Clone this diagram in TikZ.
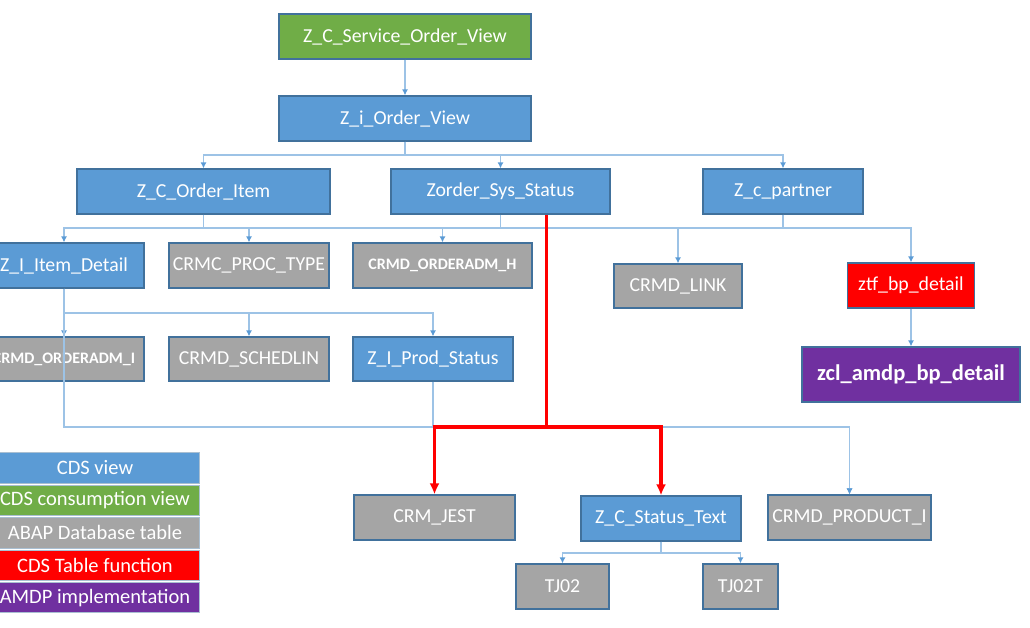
\documentclass[tikz,border=0pt]{standalone}
\usepackage{fontspec}
\setmainfont{Carlito}
\usetikzlibrary{arrows.meta,positioning}
\definecolor{cdsblue}{HTML}{5B9BD5}
\definecolor{cdsgreen}{HTML}{70AD47}
\definecolor{tabgrey}{HTML}{A5A5A5}
\definecolor{tfred}{HTML}{FF0000}
\definecolor{amdppurple}{HTML}{7030A0}
\definecolor{boxedge}{HTML}{41719C}
\definecolor{linkblue}{HTML}{9DC3E6}

\begin{document}
\begin{tikzpicture}[x=1pt,y=-1pt,
    box/.style={draw=boxedge,line width=1.2pt,text=white,minimum height=45pt,inner sep=0pt,font=\fontsize{19.8}{23}\selectfont},
    view/.style={box,fill=cdsblue},
    cview/.style={box,fill=cdsgreen},
    dbtab/.style={box,fill=tabgrey},
    tfunc/.style={box,fill=tfred},
    amdp/.style={box,fill=amdppurple,font=\fontsize{22.5}{26}\selectfont\bfseries},
    legbox/.style={box,draw=boxedge!45,line width=0.8pt,minimum width=208pt,minimum height=30.5pt,font=\fontsize{20.5}{24}\selectfont},
    link/.style={draw=linkblue,line width=1.2pt,-{Latex[length=6pt,width=6pt,color=cdsblue]}},
    hot/.style={draw=tfred,line width=3.6pt,-{Latex[length=11pt,width=10pt]}}]
        \useasboundingbox (0,0) rectangle (1030,627);
        % top of the tree
        \node[cview,minimum width=252pt] (svc) at (405,36.5) {Z\_C\_Service\_Order\_View};
        \node[view,minimum width=252pt] (iov) at (405,118.5) {Z\_i\_Order\_View};
        \node[view,minimum width=253pt] (oitem) at (203.5,191.5) {Z\_C\_Order\_Item};
        \node[view,minimum width=219pt] (sysst) at (500.5,191.5) {Zorder\_Sys\_Status};
        \node[view,minimum width=160pt] (partner) at (783,191.5) {Z\_c\_partner};
        % second level
        \node[view,minimum width=160pt] (idetail) at (64,265.5) {Z\_I\_Item\_Detail};
        \node[dbtab,minimum width=160pt] (proctype) at (249,265.5) {CRMC\_PROC\_TYPE};
        \node[dbtab,minimum width=179pt,font=\fontsize{16}{19}\selectfont\bfseries] (admh) at (442.5,265.5) {CRMD\_ORDERADM\_H};
        \node[dbtab,minimum width=128pt,minimum height=44pt] (crmlink) at (678,286) {CRMD\_LINK};
        \node[tfunc,minimum width=127pt] (ztf) at (911,285.5) {ztf\_bp\_detail};
        \node[amdp,minimum width=218pt,minimum height=55pt] (zcl) at (911,374.5) {zcl\_amdp\_bp\_detail};
        % third level
        \node[dbtab,minimum width=160pt,minimum height=44pt,font=\fontsize{16}{19}\selectfont\bfseries] (admi) at (64,359) {CRMD\_ORDERADM\_I};
        \node[dbtab,minimum width=160pt,minimum height=44pt] (schedlin) at (249,359) {CRMD\_SCHEDLIN};
        \node[view,minimum width=160pt,minimum height=44pt] (prodst) at (433,359) {Z\_I\_Prod\_Status};
        % bottom
        \node[dbtab,minimum width=161pt] (jest) at (434.5,517.5) {CRM\_JEST};
        \node[view,minimum width=160pt] (stext) at (661,518.5) {Z\_C\_Status\_Text};
        \node[dbtab,minimum width=163pt] (prodi) at (849.5,517.5) {CRMD\_PRODUCT\_I};
        \node[dbtab,minimum width=93pt] (tj02) at (562.5,586.5) {TJ02};
        \node[dbtab,minimum width=75pt] (tj02t) at (740.5,586.5) {TJ02T};

        \coordinate (bus1) at (0,155);
        \coordinate (bus2) at (0,228);
        \coordinate (bus3) at (0,313);
        \coordinate (bus4) at (0,427);
        \coordinate (bus5) at (0,553);
        \coordinate (hotjoin) at (546.5,427);

        \draw[link] (svc) -- (iov);
        \foreach \c in {oitem,sysst,partner}{\draw[link] (iov.south) -- (iov.south |- bus1) -| (\c.north);}
        \draw[link,-] (idetail.north |- bus2) -- (ztf.north |- bus2);
        \foreach \c in {idetail,proctype}{\draw[link] (oitem.south) -- (oitem.south |- bus2) -| (\c.north);}
        \draw[link] (sysst.south) -- (sysst.south |- bus2) -| (admh.north);
        \foreach \c in {crmlink,ztf}{\draw[link] (partner.south) -- (partner.south |- bus2) -| (\c.north);}
        \draw[link] (ztf) -- (zcl);
        \foreach \c in {admi,schedlin,prodst}{\draw[link] (idetail.south) -- (idetail.south |- bus3) -| (\c.north);}
        \draw[link] (idetail.south) -- (idetail.south |- bus4) -| (prodi.north);
        \draw[link] (prodst.south) -- (prodst.south |- bus4) -| (prodi.north);
        \foreach \c in {tj02,tj02t}{\draw[link] (stext.south) -- (stext.south |- bus5) -| (\c.north);}
        % the status path
        \draw[hot] ([xshift=46pt]sysst.south) -- (hotjoin) -| (jest.north);
        \draw[hot] (hotjoin) -| (stext.north);

        % legend
        \foreach \t/\c [count=\i from 0] in {CDS view/cdsblue,CDS consumption view/cdsgreen,ABAP Database table/tabgrey,CDS Table function/tfred,AMDP implementation/amdppurple}
          \node[legbox,fill=\c] (leg\i) at (95,468+32.4*\i) {\t};
      \end{tikzpicture}
\end{document}
